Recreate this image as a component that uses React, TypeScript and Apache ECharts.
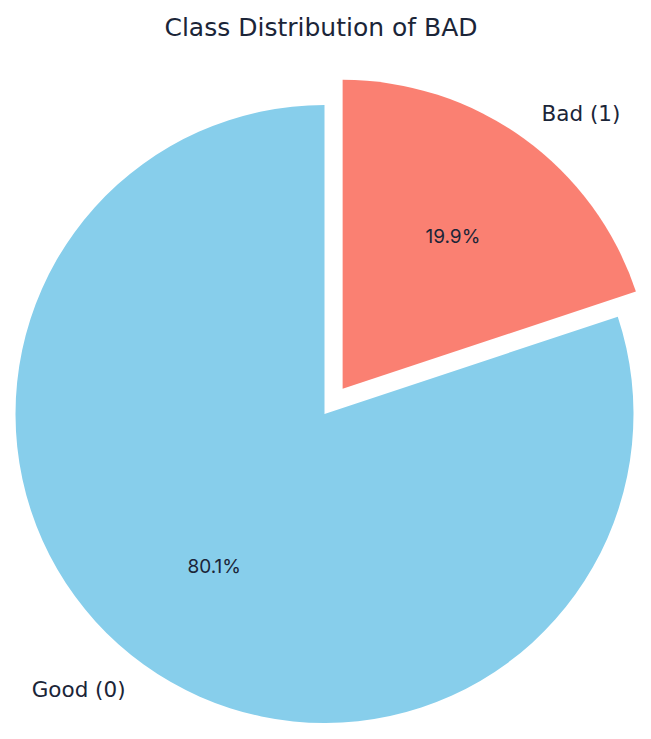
import React, { useEffect, useRef } from "react";
import * as echarts from "echarts";

const categories = ["Bad (1)", "Good (0)"];
const percents = [19.9, 80.1];
const colors = ["#FA8072", "#87CEEB"];
const titleText = "Class Distribution of BAD";

const TEXT = "#1b2538";
const FONT = "DejaVu Sans";
const PFONT = "Inter";
const CX = 324.5;
const CY = 414;
const R = 309;
const OFFSET = 31;

export default function App() {
  const ref = useRef<HTMLDivElement>(null);
  useEffect(() => {
    if (!ref.current) return;
    const chart = echarts.init(ref.current, null, { renderer: "svg" });
    const data = categories.map((name, i) => ({
      name,
      value: percents[i],
      selected: i === 0,
      itemStyle: { color: colors[i] },
    }));
    const dataT = categories.map((name, i) => ({
      name,
      value: percents[i],
      selected: i === 0,
      itemStyle: { color: "rgba(0,0,0,0)" },
    }));
    chart.setOption({
      animation: false,
      backgroundColor: "#ffffff",
      title: {
        text: titleText,
        left: 316,
        textAlign: "center",
        top: 10,
        textStyle: { fontFamily: FONT, fontSize: 25, fontWeight: "normal", color: TEXT },
      },
      series: [
        {
          type: "pie",
          center: [CX, CY],
          radius: R,
          startAngle: 90,
          clockwise: true,
          selectedMode: "multiple",
          selectedOffset: OFFSET,
          avoidLabelOverlap: false,
          silent: true,
          label: {
            show: true,
            position: "outside",
            formatter: "{b}",
            fontFamily: FONT,
            fontSize: 21.5,
            color: TEXT,
            distanceToLabelLine: 0,
            alignTo: "none",
          },
          labelLine: { show: false, length: R * 0.1, length2: 0 },
          emphasis: { disabled: true },
          data,
        },
        {
          type: "pie",
          center: [CX, CY],
          radius: [R * 0.5, R * 0.7],
          startAngle: 90,
          clockwise: true,
          selectedMode: "multiple",
          selectedOffset: OFFSET,
          avoidLabelOverlap: false,
          silent: true,
          label: {
            show: true,
            position: "inside",
            formatter: (p: any) => p.value.toFixed(1) + "%",
            fontFamily: PFONT,
            fontSize: 19,
            color: TEXT,
          },
          labelLine: { show: false },
          emphasis: { disabled: true },
          data: dataT,
        },
      ],
    });
    return () => chart.dispose();
  }, []);
  return (
    <div
      ref={ref}
      style={{ position: "absolute", left: 0, top: 0, width: 651, height: 739 }}
    />
  );
}
